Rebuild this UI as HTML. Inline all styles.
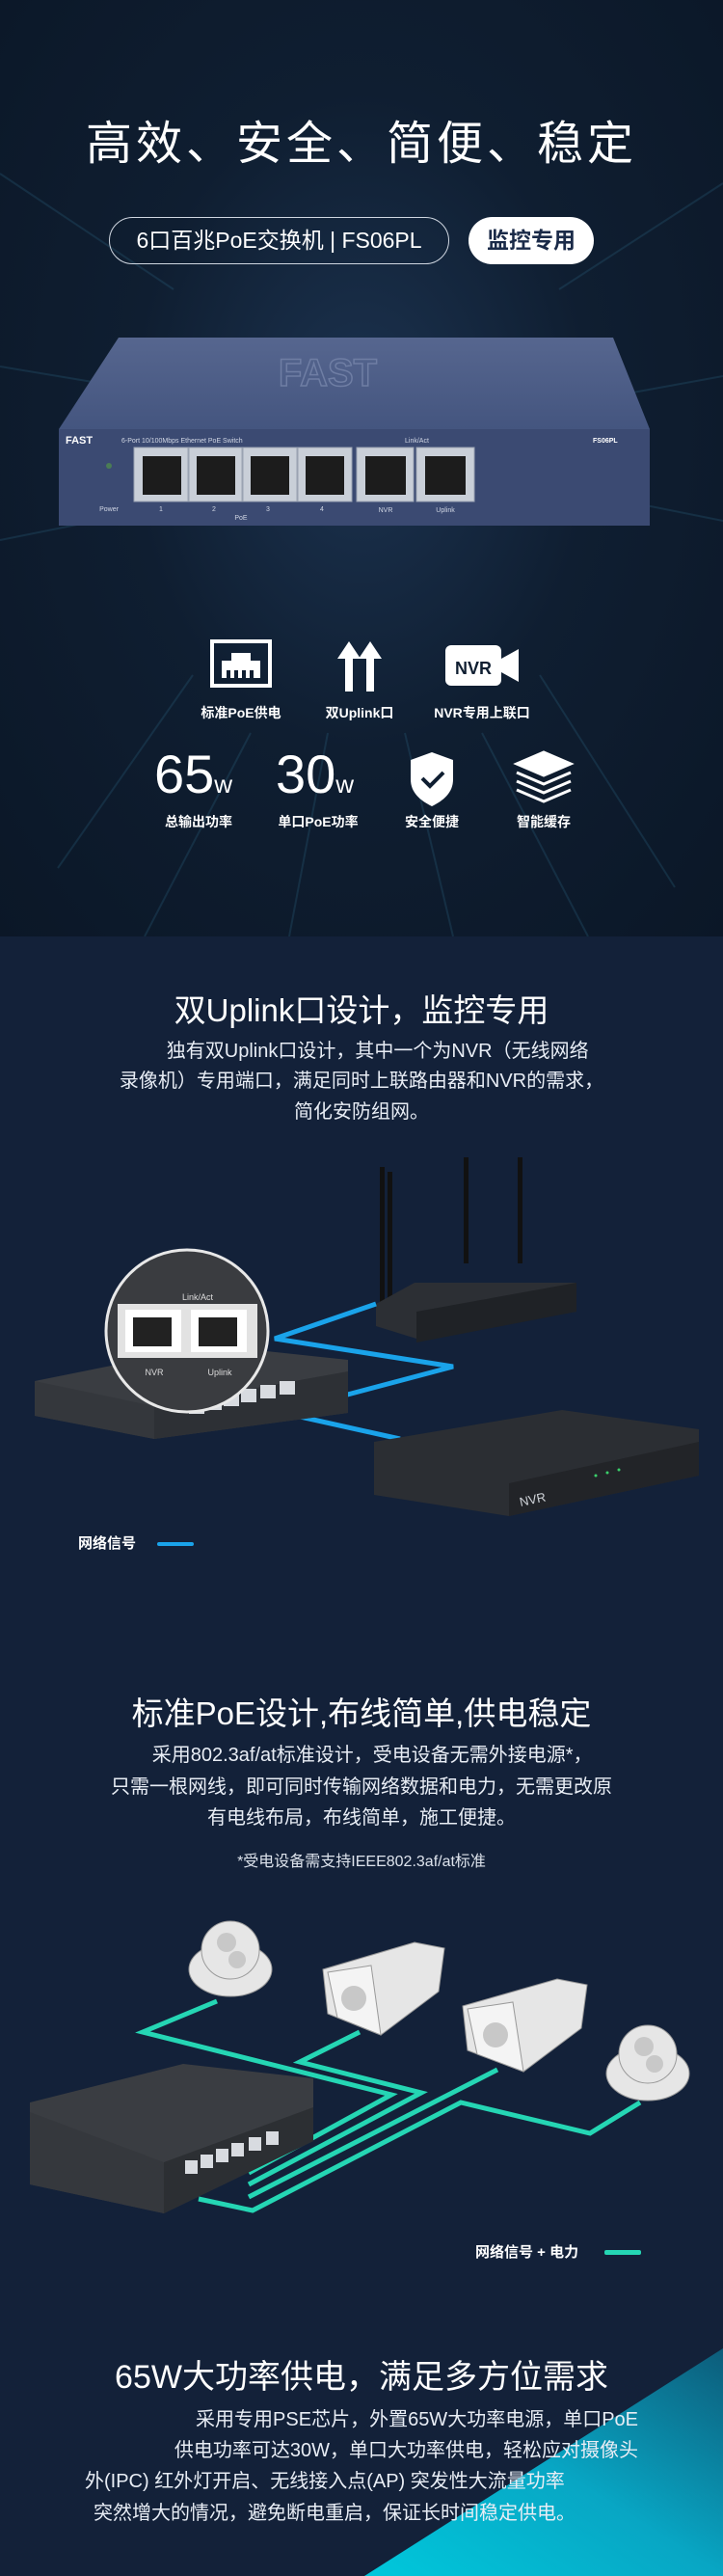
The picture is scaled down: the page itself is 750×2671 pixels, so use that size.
<!DOCTYPE html>
<html><head><meta charset="utf-8"><style>
*{margin:0;padding:0;box-sizing:border-box}
body{width:750px;height:2671px;background:#132139;position:relative;overflow:hidden;font-family:"Liberation Sans","Noto Sans CJK SC",sans-serif;color:#fff}
.a{position:absolute}
.c{position:absolute;left:0;width:750px;text-align:center;white-space:nowrap}
.t{font-size:33px;line-height:40px}
.p{font-size:20px;line-height:31px;color:#e8edf5}
.lbl{font-size:14px;font-weight:bold;text-align:center;width:120px;position:absolute}
</style></head><body>
<div class="a" style="left:0;top:0;width:750px;height:971px;background:radial-gradient(ellipse at 50% 45%,#1c3350 0%,#0f1e31 45%,#0b1727 100%)"></div>
<svg class="a" style="left:0;top:0" width="750" height="971">
<g stroke="#2f6c8a" stroke-width="2" opacity="0.25">
<line x1="0" y1="180" x2="180" y2="300"/><line x1="750" y1="190" x2="580" y2="300"/>
<line x1="0" y1="560" x2="200" y2="520"/><line x1="750" y1="540" x2="600" y2="510"/>
<line x1="60" y1="900" x2="200" y2="700"/><line x1="700" y1="920" x2="560" y2="700"/>
<line x1="300" y1="971" x2="340" y2="760"/><line x1="470" y1="971" x2="420" y2="760"/>
<line x1="0" y1="380" x2="120" y2="400"/><line x1="750" y1="390" x2="640" y2="410"/>
<line x1="150" y1="971" x2="260" y2="760"/><line x1="610" y1="971" x2="500" y2="760"/>
</g></svg>
<div class="c" style="top:120px;font-size:48px;line-height:60px;letter-spacing:4px">高效、安全、简便、稳定</div>
<div class="a" style="left:113px;top:225px;width:353px;height:49px;border:1.5px solid #cfd6e0;border-radius:25px;font-size:23px;line-height:46px;text-align:center">6口百兆PoE交换机 | FS06PL</div>
<div class="a" style="left:486px;top:225px;width:130px;height:49px;background:#fff;border-radius:25px;font-size:23px;line-height:49px;text-align:center;color:#1a2a48;font-weight:bold">监控专用</div>
<svg class="a" style="left:0;top:340px" width="750" height="220">
<defs><linearGradient id="tp" x1="0" y1="0" x2="0" y2="1"><stop offset="0" stop-color="#56668f"/><stop offset="1" stop-color="#44557f"/></linearGradient></defs>
<polygon points="123,10 636,10 674,105 61,105" fill="url(#tp)"/>
<text x="340" y="60" font-size="40" font-family="Liberation Sans" font-weight="bold" fill="none" stroke="#6f7ea4" stroke-width="1.5" text-anchor="middle">FAST</text>
<rect x="61" y="105" width="613" height="100" fill="#3b4a72"/>
<text x="68" y="120" font-size="11" font-weight="bold" fill="#fff" font-family="Liberation Sans">FAST</text>
<text x="126" y="119" font-size="7" fill="#d0d6e4" font-family="Liberation Sans">6-Port 10/100Mbps Ethernet PoE Switch</text>
<text x="420" y="119" font-size="7" fill="#d0d6e4" font-family="Liberation Sans">Link/Act</text>
<text x="615" y="119" font-size="7" font-weight="bold" fill="#fff" font-family="Liberation Sans">FS06PL</text>
<g fill="#c9cfd8" stroke="#9aa3b2">
<rect x="139" y="124" width="56" height="56"/><rect x="196" y="124" width="55" height="56"/><rect x="252" y="124" width="56" height="56"/><rect x="309" y="124" width="56" height="56"/><rect x="370" y="124" width="59" height="56"/><rect x="432" y="124" width="60" height="56"/></g>
<g fill="#1c1c1c"><rect x="148" y="133" width="40" height="40"/><rect x="204" y="133" width="40" height="40"/><rect x="260" y="133" width="40" height="40"/><rect x="317" y="133" width="40" height="40"/><rect x="379" y="133" width="42" height="40"/><rect x="441" y="133" width="42" height="40"/></g>
<circle cx="113" cy="143" r="3" fill="#4a7c55"/>
<g font-size="7" fill="#d0d6e4" font-family="Liberation Sans" text-anchor="middle">
<text x="113" y="190">Power</text><text x="167" y="190">1</text><text x="222" y="190">2</text><text x="278" y="190">3</text><text x="334" y="190">4</text><text x="400" y="191">NVR</text><text x="462" y="191">Uplink</text><text x="250" y="199">PoE</text></g>
</svg>
<svg class="a" style="left:0;top:655px" width="750" height="210">
<g fill="none" stroke="#fff" stroke-width="4"><rect x="220" y="10" width="60" height="46"/></g>
<g fill="#fff"><rect x="230" y="30" width="40" height="18"/><rect x="240" y="22" width="20" height="10"/></g>
<g fill="#0f1e31"><rect x="235" y="40" width="4" height="8"/><rect x="243" y="40" width="4" height="8"/><rect x="251" y="40" width="4" height="8"/><rect x="259" y="40" width="4" height="8"/></g>
<g fill="#fff"><polygon points="350,28 362,10 374,28 366,28 366,62 358,62 358,28"/><polygon points="372,28 384,10 396,28 388,28 388,62 380,62 380,28"/></g>
<rect x="462" y="14" width="58" height="42" rx="6" fill="#fff"/><polygon points="520,28 538,18 538,52 520,42" fill="#fff"/>
<text x="491" y="44" font-size="18" font-weight="bold" fill="#0f1e31" text-anchor="middle" font-family="Liberation Sans">NVR</text>
<path d="M448 125 l22 8 v20 c0 14 -10 22 -22 28 c-12 -6 -22 -14 -22 -28 v-20z" fill="#fff"/>
<path d="M438 152 l8 8 l14 -14" stroke="#0f1e31" stroke-width="4" fill="none"/>
<g fill="none" stroke="#fff" stroke-width="3"><polygon points="564,125 592,137 564,149 536,137" fill="#fff"/><polyline points="536,146 564,158 592,146"/><polyline points="536,155 564,167 592,155"/><polyline points="536,164 564,176 592,164"/></g>
</svg>
<div class="lbl" style="left:190px;top:729px">标准PoE供电</div>
<div class="lbl" style="left:313px;top:729px">双Uplink口</div>
<div class="lbl" style="left:440px;top:729px">NVR专用上联口</div>
<div class="a" style="left:160px;top:773px;font-size:56px;line-height:60px">65<span style="font-size:26px">w</span></div>
<div class="a" style="left:286px;top:773px;font-size:56px;line-height:60px">30<span style="font-size:26px">w</span></div>
<div class="lbl" style="left:146px;top:842px">总输出功率</div>
<div class="lbl" style="left:270px;top:842px">单口PoE功率</div>
<div class="lbl" style="left:388px;top:842px">安全便捷</div>
<div class="lbl" style="left:504px;top:842px">智能缓存</div>

<div class="c t" style="top:1028px">双Uplink口设计，监控专用</div>
<div class="c p" style="top:1075px">&nbsp;&nbsp;&nbsp;&nbsp;&nbsp;&nbsp;独有双Uplink口设计，其中一个为NVR（无线网络</div>
<div class="c p" style="top:1106px">录像机）专用端口，满足同时上联路由器和NVR的需求，</div>
<div class="c p" style="top:1138px">简化安防组网。</div>
<svg class="a" style="left:0;top:1200px" width="750" height="450">
<g fill="#111"><rect x="394" y="10" width="5" height="150"/><rect x="402" y="15" width="5" height="150"/><rect x="481" y="0" width="5" height="110"/><rect x="537" y="0" width="5" height="110"/></g>
<polygon points="390,152 430,130 598,130 598,160 432,188 390,175" fill="#2c2f34"/>
<polygon points="432,160 598,130 598,160 432,192" fill="#1f2226"/>
<g fill="none" stroke="#1aa3ea" stroke-width="5">
<polyline points="390,152 285,188 470,217 300,262"/>
<polyline points="280,262 415,292"/>
</g>
<polygon points="36,232 220,195 361,210 361,265 160,292 36,268" fill="#3a3d42"/>
<polygon points="160,258 361,222 361,265 160,292" fill="#2d3035"/>
<polygon points="36,232 160,258 160,292 36,268" fill="#34373c"/>
<g fill="#d8dbe0"><rect x="196" y="252" width="16" height="14"/><rect x="214" y="248" width="16" height="14"/><rect x="232" y="244" width="16" height="14"/><rect x="250" y="240" width="16" height="14"/><rect x="270" y="236" width="16" height="14"/><rect x="290" y="232" width="16" height="14"/></g>
<polygon points="388,295 583,262 725,282 725,330 528,372 388,350" fill="#2b2e33"/>
<polygon points="528,338 725,295 725,330 528,372" fill="#222428"/>
<text x="540" y="362" font-size="13" fill="#cfd3d8" font-family="Liberation Sans" transform="rotate(-12 540 362)">NVR</text>
<g fill="#3ad06a"><circle cx="618" cy="330" r="1.5"/><circle cx="630" cy="327" r="1.5"/><circle cx="642" cy="324" r="1.5"/></g>
<circle cx="194" cy="180" r="84" fill="#3a3c40" stroke="#e8e8e8" stroke-width="3"/>
<rect x="122" y="152" width="145" height="56" fill="#e2e2e2"/>
<rect x="130" y="158" width="58" height="44" fill="#fff"/><rect x="198" y="158" width="58" height="44" fill="#fff"/>
<rect x="138" y="166" width="40" height="30" fill="#222"/><rect x="206" y="166" width="40" height="30" fill="#222"/>
<g font-size="9" fill="#ddd" font-family="Liberation Sans" text-anchor="middle"><text x="205" y="148">Link/Act</text><text x="160" y="226">NVR</text><text x="228" y="226">Uplink</text></g>
</svg>
<div class="a" style="left:81px;top:1591px;font-size:15px;font-weight:bold;line-height:20px">网络信号</div>
<div class="a" style="left:163px;top:1599px;width:38px;height:4px;background:#1aa3ea;border-radius:2px"></div>

<div class="c t" style="top:1757px">标准PoE设计,布线简单,供电稳定</div>
<div class="c p" style="top:1805px">&nbsp;&nbsp;&nbsp;&nbsp;采用802.3af/at标准设计，受电设备无需外接电源*，</div>
<div class="c p" style="top:1838px">只需一根网线，即可同时传输网络数据和电力，无需更改原</div>
<div class="c p" style="top:1870px">有电线布局，布线简单，施工便捷。</div>
<div class="c" style="top:1920px;font-size:16px;line-height:22px;color:#dde3ec">*受电设备需支持IEEE802.3af/at标准</div>
<svg class="a" style="left:0;top:1980px" width="750" height="330">
<g fill="none" stroke="#25d6b4" stroke-width="5" stroke-linejoin="miter">
<polyline points="225,95 148,127 406,192 258,273"/>
<polyline points="373,127 311,158 437,190 258,285"/>
<polyline points="516,166 258,298"/>
<polyline points="664,200 612,232 478,200 262,312 206,300"/>
</g>
<polygon points="31,200 190,160 325,175 325,240 170,315 31,285" fill="#3a3d42"/>
<polygon points="170,262 325,205 325,240 170,315" fill="#2c2f33"/>
<polygon points="31,210 170,262 170,315 31,285" fill="#35383d"/>
<g fill="#d8dbe0"><rect x="192" y="260" width="13" height="14"/><rect x="208" y="254" width="13" height="14"/><rect x="224" y="248" width="13" height="14"/><rect x="240" y="242" width="13" height="14"/><rect x="258" y="236" width="13" height="14"/><rect x="276" y="230" width="13" height="14"/></g>
<g fill="#e6e6e6" stroke="#9a9a9a" stroke-width="1">
<ellipse cx="239" cy="62" rx="43" ry="28"/><ellipse cx="239" cy="42" rx="30" ry="30"/>
<ellipse cx="672" cy="170" rx="43" ry="28"/><ellipse cx="672" cy="150" rx="30" ry="30"/>
<polygon points="335,62 430,34 461,40 455,85 395,130 340,108"/>
<polygon points="340,65 385,58 395,130 350,112" fill="#f4f4f4"/>
<polygon points="480,100 578,72 609,78 603,123 543,168 485,146"/>
<polygon points="485,103 532,96 543,168 495,150" fill="#f4f4f4"/>
</g>
<g fill="#c8c8c8"><circle cx="235" cy="34" r="10"/><circle cx="246" cy="52" r="9"/><circle cx="668" cy="142" r="10"/><circle cx="679" cy="160" r="9"/><circle cx="367" cy="92" r="13"/><circle cx="514" cy="130" r="13"/></g>
</svg>
<div class="a" style="left:493px;top:2326px;font-size:15px;font-weight:bold;line-height:20px">网络信号 + 电力</div>
<div class="a" style="left:627px;top:2333px;width:38px;height:5px;background:#25d6b4;border-radius:2px"></div>

<svg class="a" style="left:0;top:2420px" width="750" height="251"><defs><linearGradient id="cy" x1="1" y1="0" x2="0" y2="1"><stop offset="0" stop-color="#0d5c7a"/><stop offset="0.5" stop-color="#08a6c4"/><stop offset="1" stop-color="#00c8dc"/></linearGradient></defs><polygon points="750,15 750,251 378,251" fill="url(#cy)"/></svg>
<div class="c t" style="top:2445px;font-size:34px">65W大功率供电，满足多方位需求</div>
<div class="a p" style="left:88px;top:2494px;width:574px;text-align:right;white-space:nowrap">采用专用PSE芯片，外置65W大功率电源，单口PoE</div>
<div class="a p" style="left:88px;top:2526px;width:574px;text-align:right;white-space:nowrap">供电功率可达30W，单口大功率供电，轻松应对摄像头</div>
<div class="a p" style="left:88px;top:2558px;width:574px;white-space:nowrap">外(IPC) 红外灯开启、无线接入点(AP) 突发性大流量功率</div>
<div class="a p" style="left:97px;top:2591px;width:574px;white-space:nowrap">突然增大的情况，避免断电重启，保证长时间稳定供电。</div>
</body></html>
